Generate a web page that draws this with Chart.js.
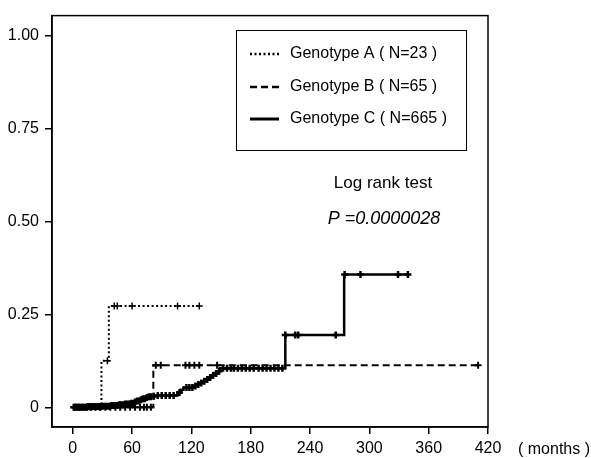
<!DOCTYPE html>
<html>
<head>
<meta charset="utf-8">
<script src="https://cdn.jsdelivr.net/npm/chart.js@4/dist/chart.umd.min.js"></script>
<style>
  html, body { margin: 0; padding: 0; background: #fff; }
</style>
</head>
<body>
<canvas id="kmChart" width="591" height="458"></canvas>
<script>
// axis ticks
const xTickValues = [0, 60, 120, 180, 240, 300, 360, 420];
const yTickValues = [0, 0.25, 0.5, 0.75, 1];
const yTickLabels = ['0', '0.25', '0.50', '0.75', '1.00'];

const seriesLabels = ['Genotype A\u00a0( N=23 )', 'Genotype B\u00a0( N=65 )', 'Genotype C\u00a0( N=665 )'];

// step curves: time in months -> cumulative proportion from that time on
const aTimes  = [0, 29, 36.5, 128];
const aValues = [0, 0.125, 0.272, 0.272];
const aCensored = [3, 7, 11, 15, 19, 23, 27, 35, 42, 45, 60, 106, 128];

const bTimes  = [0, 81.5, 410];
const bValues = [0, 0.113, 0.113];
const bCensored = [2, 6, 10, 14, 18, 23, 28, 33, 38, 43, 48, 53, 58, 63, 68, 72, 75, 79,
                   84, 89, 114, 118, 123, 128, 146, 410];

const cTimes  = [0, 15, 28, 38, 46, 53, 58, 62, 65, 68, 71, 74, 77, 80, 84,
                 106, 109, 112, 122, 125, 128, 131, 134, 137, 140, 143, 146, 149,
                 215, 274.5, 340];
const cValues = [0, 0.002, 0.003, 0.005, 0.007, 0.009, 0.011, 0.014, 0.017, 0.020, 0.023, 0.026, 0.028, 0.030, 0.032,
                 0.040, 0.047, 0.053, 0.057, 0.061, 0.065, 0.070, 0.075, 0.080, 0.086, 0.091, 0.097, 0.105,
                 0.194, 0.357, 0.357];
const cCensored = [1, 3, 5, 7, 9, 11, 13, 15, 17, 19, 21, 23, 25, 27, 29, 31, 33, 35, 37, 39, 41, 43, 45,
                   47, 49, 51, 53, 55, 57, 59, 61, 63, 65, 67, 69, 71, 73, 75, 77, 79, 82,
                   86, 90, 94, 98, 102, 108, 115, 118, 121, 124, 127, 130, 133, 136, 139, 142, 145, 148,
                   152, 156, 160, 163, 167, 171, 175, 179, 183, 188, 192, 196, 200, 204, 208, 212,
                   215, 225, 228, 266, 275, 291, 329, 339];

function stepPoints(times, values) {
  return times.map((t, i) => ({ x: t, y: values[i] }));
}

function valueAt(times, values, t) {
  let v = values[0];
  for (let i = 0; i < times.length; i++) {
    if (times[i] <= t) v = values[i];
  }
  return v;
}

function censorPoints(times, values, censored) {
  return censored.map(t => ({ x: t, y: valueAt(times, values, t) }));
}

const styles = [
  { dash: [2, 2.5], width: 2, mark: 1.5 },
  { dash: [7, 4], width: 2, mark: 2 },
  { dash: [], width: 2.5, mark: 2.5 }
];

const groups = [
  [aTimes, aValues, aCensored],
  [bTimes, bValues, bCensored],
  [cTimes, cValues, cCensored]
];

const datasets = [];
groups.forEach(([times, values, censored], i) => {
  datasets.push({
    label: seriesLabels[i],
    data: stepPoints(times, values),
    stepped: 'before',
    borderColor: '#000',
    borderWidth: styles[i].width,
    borderDash: styles[i].dash,
    pointRadius: 0,
    fill: false
  });
  datasets.push({
    label: seriesLabels[i] + ' censored',
    data: censorPoints(times, values, censored),
    showLine: false,
    pointStyle: 'cross',
    pointRadius: 3.5,
    pointBorderWidth: styles[i].mark,
    pointBorderColor: '#000',
    pointBackgroundColor: '#000'
  });
});

const tickFont = { family: '"Liberation Sans", Arial, sans-serif', size: 16 };

// frame, legend box and annotation text
const decorations = {
  id: 'decorations',
  afterDraw(chart) {
    const ctx = chart.ctx;
    const area = chart.chartArea;
    ctx.save();
    ctx.strokeStyle = '#000';
    ctx.lineWidth = 1.5;
    ctx.strokeRect(area.left, area.top, area.right - area.left, area.bottom - area.top);

    // legend box
    ctx.lineWidth = 1;
    ctx.strokeRect(236.5, 30.5, 230, 120);
    const rowY = [54, 87, 119];
    ctx.fillStyle = '#000';
    ctx.font = '16px "Liberation Sans", Arial, sans-serif';
    ctx.textBaseline = 'middle';
    ctx.textAlign = 'left';
    seriesLabels.forEach((label, i) => {
      ctx.beginPath();
      ctx.lineWidth = styles[i].width + 0.5;
      ctx.setLineDash(styles[i].dash);
      ctx.moveTo(250, rowY[i]);
      ctx.lineTo(279, rowY[i]);
      ctx.stroke();
      ctx.setLineDash([]);
      ctx.fillText(label, 290, rowY[i]);
    });

    ctx.textAlign = 'center';
    ctx.font = '17px "Liberation Sans", Arial, sans-serif';
    ctx.fillText('Log rank test', 383, 183);
    ctx.font = 'italic 18px "Liberation Sans", Arial, sans-serif';
    ctx.fillText('P =0.0000028', 384, 219);

    ctx.textAlign = 'right';
    ctx.font = '16px "Liberation Sans", Arial, sans-serif';
    ctx.fillText('( months )', 590, 450);
    ctx.restore();
  }
};

const ctx = document.getElementById('kmChart').getContext('2d');
const kmChart = new Chart(ctx, {
  type: 'line',
  data: { datasets: datasets },
  options: {
    responsive: false,
    animation: false,
    layout: { padding: { top: 12, right: 103, left: 0, bottom: 0 } },
    plugins: {
      legend: { display: false },
      tooltip: { enabled: false }
    },
    scales: {
      x: {
        type: 'linear',
        min: -21,
        max: 420,
        afterBuildTicks: s => { s.ticks = xTickValues.map(v => ({ value: v })); },
        afterFit: s => { s.height = 31; },
        ticks: { font: tickFont, color: '#000', padding: 5, maxRotation: 0, autoSkip: false },
        grid: { drawOnChartArea: false, drawTicks: true, tickLength: 7, color: '#000', lineWidth: 1.5 },
        border: { display: true, color: '#000', width: 1.5 }
      },
      y: {
        type: 'linear',
        min: -0.053,
        max: 1.053,
        afterBuildTicks: s => { s.ticks = yTickValues.map(v => ({ value: v })); },
        afterFit: s => { s.width = 52; },
        ticks: {
          font: tickFont, color: '#000', padding: 6,
          callback: v => yTickLabels[yTickValues.indexOf(v)]
        },
        grid: { drawOnChartArea: false, drawTicks: true, tickLength: 7, color: '#000', lineWidth: 1.5 },
        border: { display: true, color: '#000', width: 1.5 }
      }
    }
  },
  plugins: [decorations]
});
</script>
</body>
</html>
